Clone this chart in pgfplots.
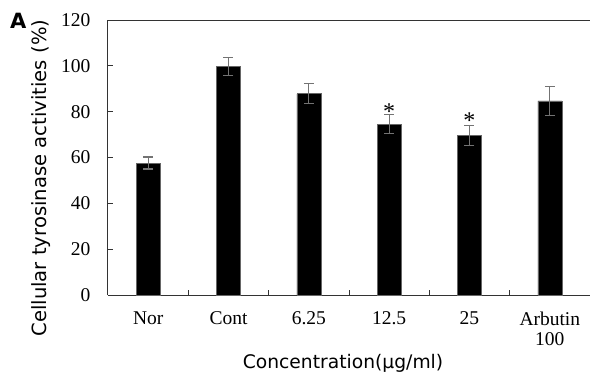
\documentclass[border=0pt]{standalone}
\usepackage{fontspec}
\setmainfont{Liberation Serif}
\setsansfont{DejaVu Sans}
\usepackage{pgfplots}
\pgfplotsset{compat=1.18}
\begin{document}
\begin{tikzpicture}
\path[use as bounding box] (-108pt,-83pt) rectangle (482pt,295pt);
\begin{axis}[
  scale only axis,
  width=482pt, height=275pt,
  at={(0,0)}, anchor=south west,
  axis x line*=box, axis y line*=left,
  xmin=-0.5, xmax=5.5, ymin=0, ymax=120,
  ytick={0,20,...,120},
  xtick={0,1,2,3,4,5},
  xticklabels={Nor,Cont,6.25,12.5,25,{Arbutin\\100}},
  minor xtick={0.5,1.5,2.5,3.5,4.5},
  major x tick style={draw=none},
  minor tick length=5pt,
  major tick length=5pt,
  tick align=inside,
  xtick pos=bottom, ytick pos=left,
  /pgf/number format/assume math mode=true,
  tick label style={font=\fontsize{19.5}{20}\selectfont},
  x tick label style={align=center, yshift=-13pt},
  y tick label style={xshift=-14pt},
  xlabel={Concentration(μg/ml)},
  ylabel={Cellular tyrosinase activities (\%)},
  xlabel style={font=\sffamily\fontsize{18.7}{20}\selectfont, at={(axis description cs:0.4876,-0.25)}, anchor=center},
  ylabel style={font=\sffamily\fontsize{19.6}{22}\selectfont, at={(axis description cs:-0.139,0.425)}, anchor=center},
  axis line style={line width=1pt, black!80},
  every tick/.style={black!80, line width=0.8pt},
  clip=false,
]
\addplot[ybar, bar width=24pt, fill=black, draw=black!60, line width=0.6pt,
  error bars/.cd, y dir=both, y explicit,
  error bar style={black!55, line width=1.1pt},
  error mark options={rotate=90, mark size=5pt, line width=1.1pt, black!55}]
coordinates {
  (0,57.6) +- (0,2.6)
  (1,99.7) +- (0,4.0)
  (2,87.8) +- (0,4.4)
  (3,74.5) +- (0,4.2)
  (4,69.6) +- (0,4.2)
  (5,84.7) +- (0,6.3)
};
\addplot[only marks, mark=none, nodes near coords={*},
  nodes near coords align={center},
  every node near coord/.append style={font=\fontsize{24}{24}\selectfont, inner sep=0pt}]
coordinates {(3,80.0) (4,76.0)};
\end{axis}
\node[font=\sffamily\bfseries\fontsize{21}{21}\selectfont, anchor=north west, inner sep=0pt] at (-98pt,282pt) {A};
\end{tikzpicture}
\end{document}
